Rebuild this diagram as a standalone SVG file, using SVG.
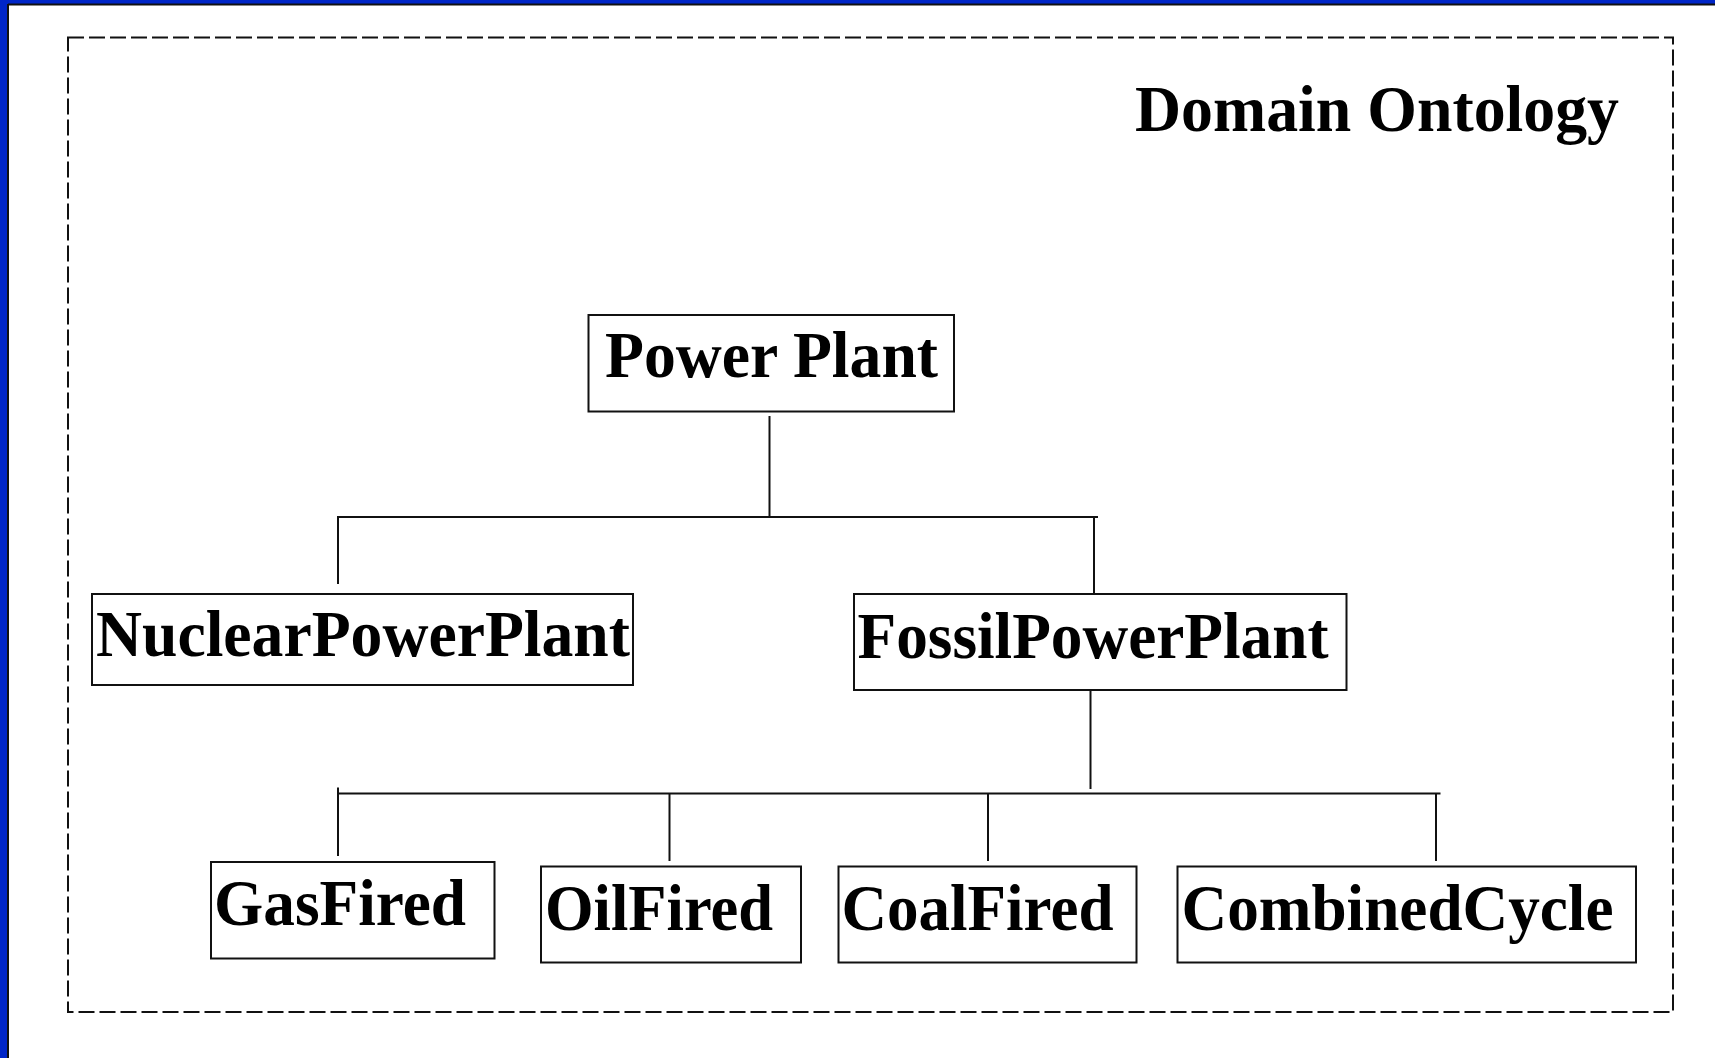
<svg xmlns="http://www.w3.org/2000/svg" width="1715" height="1058" viewBox="0 0 1715 1058">
<style>
.box{fill:#fff;stroke:#111;stroke-width:2}
.lbl{font-family:"Liberation Serif","Times New Roman",serif;font-weight:bold;font-size:66px;fill:#000}
.con line{stroke:#111;stroke-width:2}
</style>
<rect x="0" y="0" width="1715" height="1058" fill="#fff"/>
<rect x="0" y="0" width="1715" height="4" fill="#0026c8"/>
<rect x="0" y="0" width="7" height="1058" fill="#0026c8"/>
<line x1="8" y1="4.5" x2="1715" y2="4.5" stroke="#111" stroke-width="2"/>
<line x1="8" y1="4" x2="8" y2="1058" stroke="#111" stroke-width="2"/>
<rect id="frame" x="68" y="37.5" width="1605" height="974.5" fill="none" stroke="#111" stroke-width="2" stroke-dasharray="16 5"/>
<text id="title" class="lbl" x="1135" y="131" font-size="64" textLength="484" lengthAdjust="spacingAndGlyphs">Domain Ontology</text>
<g id="connectors" class="con">
<line x1="769.5" y1="416" x2="769.5" y2="517"/>
<line x1="338" y1="517" x2="1098" y2="517"/>
<line x1="338" y1="516" x2="338" y2="584"/>
<line x1="1094" y1="516" x2="1094" y2="594"/>
<line x1="1090.5" y1="688" x2="1090.5" y2="789"/>
<line x1="338" y1="793.5" x2="1440.5" y2="793.5"/>
<line x1="338" y1="787.5" x2="338" y2="856"/>
<line x1="669.5" y1="793" x2="669.5" y2="861"/>
<line x1="988" y1="793" x2="988" y2="861"/>
<line x1="1436" y1="793" x2="1436" y2="861"/>
</g>
<g id="power-plant"><rect class="box" x="588.5" y="315" width="365.5" height="96.5"/><text class="lbl" x="605" y="377" textLength="333" lengthAdjust="spacingAndGlyphs">Power Plant</text></g>
<g id="nuclear"><rect class="box" x="92" y="594" width="541" height="91"/><text class="lbl" x="96" y="656" textLength="534" lengthAdjust="spacingAndGlyphs">NuclearPowerPlant</text></g>
<g id="fossil"><rect class="box" x="854" y="594" width="492.5" height="96"/><text class="lbl" x="857.5" y="658" textLength="471" lengthAdjust="spacingAndGlyphs">FossilPowerPlant</text></g>
<g id="gas"><rect class="box" x="211" y="862" width="283.5" height="96.5"/><text class="lbl" x="214" y="925" textLength="252" lengthAdjust="spacingAndGlyphs">GasFired</text></g>
<g id="oil"><rect class="box" x="541" y="866.5" width="260" height="96"/><text class="lbl" x="545" y="929.5" textLength="228" lengthAdjust="spacingAndGlyphs">OilFired</text></g>
<g id="coal"><rect class="box" x="838.5" y="866.5" width="298" height="96"/><text class="lbl" x="841.5" y="929.5" textLength="272" lengthAdjust="spacingAndGlyphs">CoalFired</text></g>
<g id="combined"><rect class="box" x="1177.5" y="866.5" width="458.5" height="96"/><text class="lbl" x="1181.5" y="929.5" textLength="432" lengthAdjust="spacingAndGlyphs">CombinedCycle</text></g>
</svg>
